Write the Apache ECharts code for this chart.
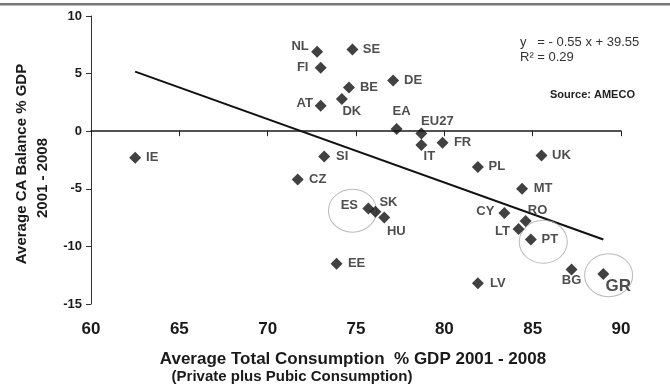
<!DOCTYPE html>
<html>
<head>
<meta charset="utf-8">
<script src="https://cdn.jsdelivr.net/npm/echarts@6/dist/echarts.min.js"></script>
<style>
  html, body { margin: 0; padding: 0; background: #fff; }
  #chart { width: 670px; height: 390px; }
</style>
</head>
<body>
<div id="chart"></div>
<script>
// Country codes and their 2001-2008 averages
const countries = ['NL','SE','FI','BE','DE','DK','AT','EA','EU27','IT','FR','SI','CZ','ES','SK','HU','EE','IE','UK','PL','MT','CY','RO','LT','PT','LV','BG','GR'];
// Average total consumption, % of GDP
const consumption = [72.8, 74.8, 73.0, 74.6, 77.1, 74.2, 73.0, 77.3, 78.7, 78.7, 79.9, 73.2, 71.7, 75.7, 76.1, 76.6, 73.9, 62.5, 85.5, 81.9, 84.4, 83.4, 84.6, 84.2, 84.9, 81.9, 87.2, 89.0];
// Average current-account balance, % of GDP
const caBalance = [6.9, 7.1, 5.5, 3.8, 4.4, 2.8, 2.2, 0.2, -0.2, -1.2, -1.0, -2.2, -4.2, -6.7, -7.0, -7.5, -11.5, -2.3, -2.1, -3.1, -5.0, -7.1, -7.8, -8.5, -9.4, -13.2, -12.0, -12.4];

// Linear fit reported on the chart
const slope = -0.55;
const intercept = 39.55;
const rSquared = 0.29;

// Countries singled out with a ring
const ringed = ['ES', 'PT', 'GR'];
const ringX = [74.8, 85.6, 89.3];
const ringY = [-6.9, -9.6, -12.5];

// Axis ticks
const xTicks = [60, 65, 70, 75, 80, 85, 90];
const yTicks = [-15, -10, -5, 0, 5, 10];

// Label placement around each marker (centre offset in px)
const labelOffset = {
  NL: [-17, -5], SE: [19, 0], FI: [-18, 0], BE: [20, 0], DE: [20, 0],
  DK: [10, 12], AT: [-16, -2], EA: [5, -17], EU27: [16, -12], IT: [8, 11],
  FR: [20, 0], SI: [18, 0], CZ: [20, 0], ES: [-19, -3], SK: [13, -9],
  HU: [12, 14], EE: [20, 0], IE: [17, 0], UK: [20, 0], PL: [19, 0],
  MT: [21, 0], CY: [-19, -2], RO: [12, -11], LT: [-16, 2], PT: [19, 0],
  LV: [20, 0], BG: [0, 11], GR: [15, 12]
};

const FONT = '"Liberation Sans", Arial, sans-serif';
const INK = '#1a1a1a';

const points = countries.map((c, i) => ({
  name: c,
  value: [consumption[i], caBalance[i]],
  label: {
    offset: labelOffset[c],
    fontSize: c === 'GR' ? 17 : 13
  }
}));

const xMin = Math.min(...consumption);
const xMax = Math.max(...consumption);
const trend = [
  [xMin, slope * xMin + intercept],
  [xMax, slope * xMax + intercept]
];

const rings = ringed.map((c, i) => ({ name: c, value: [ringX[i], ringY[i]] }));

const fmt = v => v.toFixed(2);
const eqText = 'y   = - ' + fmt(Math.abs(slope)) + ' x + ' + fmt(intercept);
const r2Text = 'R\u00B2 = ' + fmt(rSquared);

const chart = echarts.init(document.getElementById('chart'), null, { renderer: 'canvas' });

const axisCommon = {
  type: 'value',
  min: xTicks[0],
  max: xTicks[xTicks.length - 1],
  interval: 5,
  splitLine: { show: false }
};

chart.setOption({
  animation: false,
  backgroundColor: '#fff',
  textStyle: { fontFamily: FONT },
  grid: { left: 91, right: 49, top: 16, bottom: 86, containLabel: false },
  xAxis: [
    Object.assign({}, axisCommon, {
      position: 'bottom',
      axisLine: { show: true, onZero: true, lineStyle: { color: INK, width: 1.5 } },
      axisTick: { show: true, inside: false, length: 5, lineStyle: { color: INK, width: 1 } },
      axisLabel: { show: false }
    }),
    Object.assign({}, axisCommon, {
      position: 'bottom',
      axisLine: { show: false, onZero: false },
      axisTick: { show: false },
      axisLabel: {
        show: true, margin: 17, color: INK, fontSize: 17, fontWeight: 'bold', fontFamily: FONT
      }
    })
  ],
  yAxis: {
    type: 'value',
    min: yTicks[0],
    max: yTicks[yTicks.length - 1],
    interval: 5,
    splitLine: { show: false },
    axisLine: { show: true, onZero: false, lineStyle: { color: '#333', width: 1 } },
    axisTick: { show: true, inside: false, length: 5, lineStyle: { color: '#333' } },
    axisLabel: { margin: 9, color: INK, fontSize: 13, fontWeight: 'bold', fontFamily: FONT }
  },
  series: [
    {
      type: 'line',
      data: trend,
      xAxisIndex: 0,
      symbol: 'none',
      silent: true,
      lineStyle: { color: '#111', width: 2 },
      z: 2
    },
    {
      type: 'scatter',
      data: rings,
      xAxisIndex: 0,
      symbol: 'circle',
      symbolSize: [48, 43],
      silent: true,
      itemStyle: { color: 'rgba(0,0,0,0)', borderColor: '#aaa', borderWidth: 1 },
      z: 3
    },
    {
      type: 'scatter',
      data: points,
      xAxisIndex: 0,
      symbol: 'diamond',
      symbolSize: 12,
      itemStyle: { color: '#111' },
      label: {
        show: true,
        position: 'inside',
        formatter: '{b}',
        color: '#222',
        fontWeight: 'bold',
        fontFamily: FONT,
        fontSize: 13
      },
      z: 4
    }
  ],
  graphic: [
    // double rule across the top
    { type: 'rect', shape: { x: 0, y: 3, width: 670, height: 2 }, style: { fill: '#777' }, silent: true },
    { type: 'rect', shape: { x: 0, y: 5, width: 670, height: 1 }, style: { fill: '#bbb' }, silent: true },
    // y-axis title, two lines
    {
      type: 'text', x: 22, y: 164, rotation: Math.PI / 2,
      style: { text: 'Average CA Balance % GDP', fill: INK, font: 'bold 15px ' + FONT, textAlign: 'center', textVerticalAlign: 'middle' }
    },
    {
      type: 'text', x: 43, y: 178, rotation: Math.PI / 2,
      style: { text: '2001 - 2008', fill: INK, font: 'bold 15px ' + FONT, textAlign: 'center', textVerticalAlign: 'middle' }
    },
    // x-axis title, two lines
    {
      type: 'text', x: 353, y: 359,
      style: { text: 'Average Total Consumption  % GDP 2001 - 2008', fill: INK, font: 'bold 17px ' + FONT, textAlign: 'center', textVerticalAlign: 'middle' }
    },
    {
      type: 'text', x: 292, y: 377,
      style: { text: '(Private plus Pubic Consumption)', fill: INK, font: 'bold 15px ' + FONT, textAlign: 'center', textVerticalAlign: 'middle' }
    },
    // regression note and source
    {
      type: 'text', x: 520, y: 42,
      style: { text: eqText, fill: '#333', font: '13px ' + FONT, textAlign: 'left', textVerticalAlign: 'middle' }
    },
    {
      type: 'text', x: 520, y: 57,
      style: { text: r2Text, fill: '#333', font: '13px ' + FONT, textAlign: 'left', textVerticalAlign: 'middle' }
    },
    {
      type: 'text', x: 550, y: 95,
      style: { text: 'Source: AMECO', fill: '#222', font: 'bold 11px ' + FONT, textAlign: 'left', textVerticalAlign: 'middle' }
    }
  ]
});
</script>
</body>
</html>
